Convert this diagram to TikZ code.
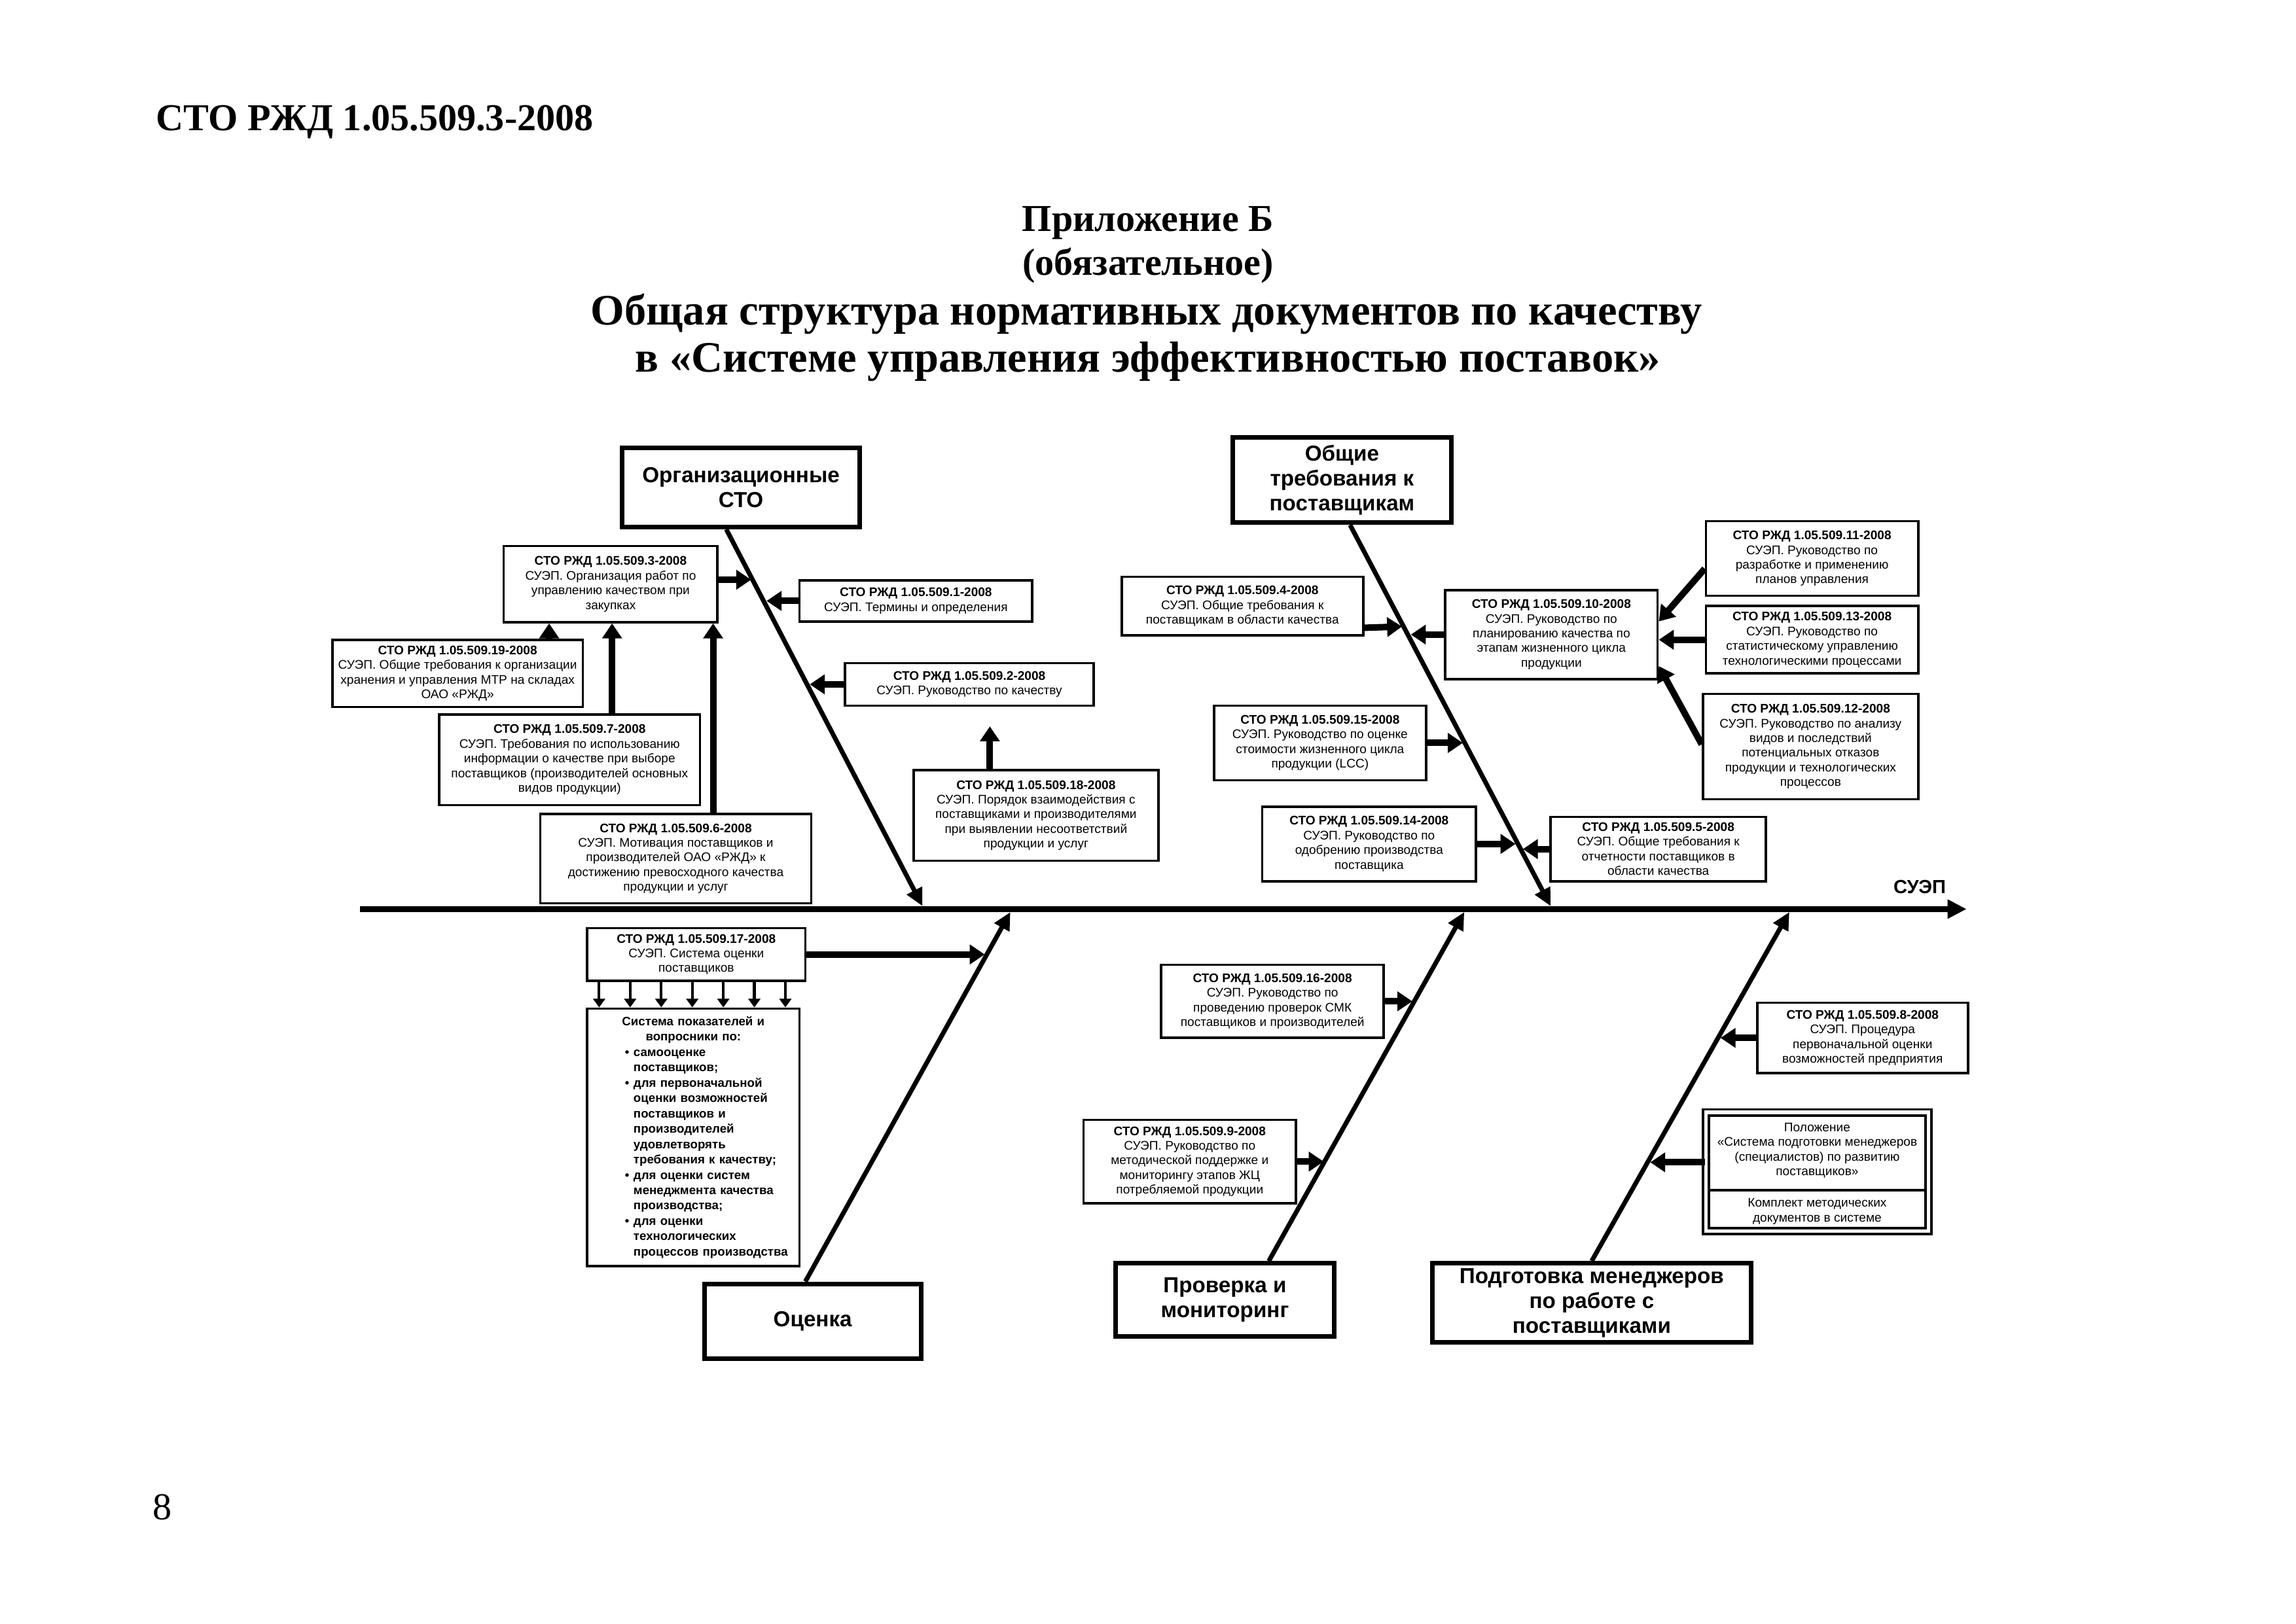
\documentclass[tikz,border=0pt]{standalone}
\usepackage{fontspec}
\setmainfont{Liberation Serif}
\newfontfamily\arial{Liberation Sans}
\usetikzlibrary{calc, arrows.meta}

\newcommand{\punkt}{\leavevmode\llap{•\hspace{1.6pt}}}

\tikzset{
    zag/.style={anchor=base, font=\bfseries\fontsize{14}{16}\selectfont},
    doc/.style={draw, line width=0.9pt, align=center, inner sep=0pt,
        font=\arial\fontsize{4.6}{5.4}\selectfont},
    cat/.style={draw, line width=1.7pt, align=center, inner sep=0pt,
        font=\arial\bfseries\fontsize{8}{9.2}\selectfont},
    razm/.style 2 args={minimum width=#1*0.018942cm, minimum height=#2*0.018942cm},
    bone/.style={line width=1.7pt, -{Triangle[length=6.5pt,width=6pt]}},
    arr/.style={->, line width=2.4pt},
    arrsmall/.style={line width=1pt, -{Triangle[length=3.2pt,width=4.4pt]}}
}

\begin{document}
\begin{tikzpicture}[x=0.018942cm, y=-0.018942cm, >={Triangle[length=5.5pt,width=7pt]}]
    \useasboundingbox (0,0) rectangle (1568,1109);

    % Заголовок
    \node[zag] (shapka) at (256,89) {СТО РЖД 1.05.509.3-2008};
    \node[zag] (pril) at (784,158) {Приложение Б};
    \node[zag] (obyaz) at (784,188) {(обязательное)};
    \node[zag, font=\bfseries\fontsize{16}{18}\selectfont] (nazv1) at (783,222)
        {Общая структура нормативных документов по качеству};
    \node[zag, font=\bfseries\fontsize{16}{18}\selectfont] (nazv2) at (784,254)
        {в «Системе управления эффективностью поставок»};
    \node[anchor=base, font=\fontsize{14}{16}\selectfont] (nomer) at (111,1038) {8};

    % Хребет
    \coordinate (s0) at (246,621);
    \coordinate (s1) at (1343,621);
    \draw[line width=2.2pt, -{Triangle[length=7pt,width=6.7pt]}] (s0) -- (s1);
    \node[font=\arial\bfseries\fontsize{7}{8}\selectfont] (suep) at (1311,606) {СУЭП};

    % Категории
    \node[cat, razm={162}{54}] (org) at (506,333) {Организационные\\СТО};
    \node[cat, razm={149}{58}] (obsh) at (916.5,328) {Общие\\требования к\\поставщикам};
    \node[cat, razm={148}{51}] (ocenka) at (555,902.5) {Оценка};
    \node[cat, razm={149}{50}] (prov) at (836.5,888) {Проверка и\\мониторинг};
    \node[cat, razm={218}{54}] (podg) at (1087,890) {Подготовка менеджеров\\по работе с\\поставщиками};

    % Кости
    \coordinate (orgtip) at (630,619);
    \coordinate (obshtip) at (1059,619);
    \coordinate (ocentip) at (690,623);
    \coordinate (provtip) at (1000,623);
    \coordinate (podgtip) at (1222,623);
    \draw[bone] ($(org.south)+(-10,0)$) -- (orgtip);
    \draw[bone] ($(obsh.south)+(5.5,0)$) -- (obshtip);
    \draw[bone] ($(ocenka.north)+(-5,0)$) -- (ocentip);
    \draw[bone] ($(prov.north)+(30,0)$) -- (provtip);
    \draw[bone] (podg.north) -- (podgtip);

    % Документы: организационные СТО
    \node[doc, razm={146}{52}] (b3) at (417,399)
        {\textbf{СТО РЖД 1.05.509.3-2008}\\СУЭП. Организация работ по\\управлению качеством при\\закупках};
    \node[doc, razm={159}{28}] (b1) at (625.5,410.5)
        {\textbf{СТО РЖД 1.05.509.1-2008}\\СУЭП. Термины и определения};
    \node[doc, razm={170}{29}] (b2) at (662,467.5)
        {\textbf{СТО РЖД 1.05.509.2-2008}\\СУЭП. Руководство по качеству};
    \node[doc, razm={171}{46}] (b19) at (312.5,460)
        {\textbf{СТО РЖД 1.05.509.19-2008}\\СУЭП. Общие требования к организации\\хранения и управления МТР на складах\\ОАО «РЖД»};
    \node[doc, razm={178}{62}] (b7) at (389,519)
        {\textbf{СТО РЖД 1.05.509.7-2008}\\СУЭП. Требования по использованию\\информации о качестве при выборе\\поставщиков (производителей основных\\видов продукции)};
    \node[doc, razm={185}{61}] (b6) at (461.5,586.5)
        {\textbf{СТО РЖД 1.05.509.6-2008}\\СУЭП. Мотивация поставщиков и\\производителей ОАО «РЖД» к\\достижению превосходного качества\\продукции и услуг};
    \node[doc, razm={167}{62}] (b18) at (707.5,557)
        {\textbf{СТО РЖД 1.05.509.18-2008}\\СУЭП. Порядок взаимодействия с\\поставщиками и производителями\\при выявлении несоответствий\\продукции и услуг};

    % Документы: общие требования к поставщикам
    \node[doc, razm={165}{40}] (b4) at (848.5,414)
        {\textbf{СТО РЖД 1.05.509.4-2008}\\СУЭП. Общие требования к\\поставщикам в области качества};
    \node[doc, razm={145}{61}] (b10) at (1059.5,433.5)
        {\textbf{СТО РЖД 1.05.509.10-2008}\\СУЭП. Руководство по\\планированию качества по\\этапам жизненного цикла\\продукции};
    \node[doc, razm={145}{51}] (b11) at (1237.5,381.5)
        {\textbf{СТО РЖД 1.05.509.11-2008}\\СУЭП. Руководство по\\разработке и применению\\планов управления};
    \node[doc, razm={145}{46}] (b13) at (1237.5,437)
        {\textbf{СТО РЖД 1.05.509.13-2008}\\СУЭП. Руководство по\\статистическому управлению\\технологическими процессами};
    \node[doc, razm={147}{72}] (b12) at (1236.5,510)
        {\textbf{СТО РЖД 1.05.509.12-2008}\\СУЭП. Руководство по анализу\\видов и последствий\\потенциальных отказов\\продукции и технологических\\процессов};
    \node[doc, razm={145}{51}] (b15) at (901.5,507.5)
        {\textbf{СТО РЖД 1.05.509.15-2008}\\СУЭП. Руководство по оценке\\стоимости жизненного цикла\\продукции (LCC)};
    \node[doc, razm={146}{51}] (b14) at (935,576.5)
        {\textbf{СТО РЖД 1.05.509.14-2008}\\СУЭП. Руководство по\\одобрению производства\\поставщика};
    \node[doc, razm={147}{44}] (b5) at (1132.5,580)
        {\textbf{СТО РЖД 1.05.509.5-2008}\\СУЭП. Общие требования к\\отчетности поставщиков в\\области качества};

    % Документы: оценка
    \node[doc, razm={149}{36}] (b17) at (475.5,652)
        {\textbf{СТО РЖД 1.05.509.17-2008}\\СУЭП. Система оценки\\поставщиков};
    \node[doc, razm={145}{176}, text width=78pt,
          font=\arial\bfseries\fontsize{4.5}{5.65}\selectfont] (sys) at (473.5,777)
        {\centering Система показателей и\\вопросники по:\par
         \raggedright\leftskip=17pt
         \punkt самооценке\\поставщиков;\par
         \punkt для первоначальной\\оценки возможностей\\поставщиков и\\производителей\\удовлетворять\\требования к качеству;\par
         \punkt для оценки систем\\менеджмента качества\\производства;\par
         \punkt для оценки\\технологических\\процессов производства\par};

    % Документы: проверка и мониторинг
    \node[doc, razm={152}{50}] (b16) at (869,684)
        {\textbf{СТО РЖД 1.05.509.16-2008}\\СУЭП. Руководство по\\проведению проверок СМК\\поставщиков и производителей};
    \node[doc, razm={145}{57}] (b9) at (812.5,793.5)
        {\textbf{СТО РЖД 1.05.509.9-2008}\\СУЭП. Руководство по\\методической поддержке и\\мониторингу этапов ЖЦ\\потребляемой продукции};

    % Документы: подготовка менеджеров
    \node[doc, razm={144}{48}] (b8) at (1272,709)
        {\textbf{СТО РЖД 1.05.509.8-2008}\\СУЭП. Процедура\\первоначальной оценки\\возможностей предприятия};
    \node[doc, double, line width=0.8pt, double distance=1.4pt, razm={152}{81}] (pol) at (1241,800.5) {};
    \draw[line width=0.9pt] ($(pol.west)+(2,12.5)$) -- ($(pol.east)+(-2,12.5)$);
    \node[doc, draw=none] (poltxt1) at (1241,786)
        {Положение\\«Система подготовки менеджеров\\(специалистов) по развитию\\поставщиков»};
    \node[doc, draw=none] (poltxt2) at (1241,827.5)
        {Комплект методических\\документов в системе};

    % Концы стрелок на костях
    \coordinate (t3) at (513,396);
    \coordinate (t1) at (523.5,410.5);
    \coordinate (t2) at (553,467.5);
    \coordinate (t4) at (957.5,428);
    \coordinate (t10) at (963.5,433.5);
    \coordinate (t15) at (999,507.5);
    \coordinate (t14) at (1035,576.5);
    \coordinate (t5) at (1040,580);
    \coordinate (t17) at (672.5,652);
    \coordinate (t16) at (964.5,684);
    \coordinate (t9) at (904,793.5);
    \coordinate (t8) at (1175,709);
    \coordinate (tpol) at (1127,794);

    % Стрелки от документов
    \draw[arr] ($(b3.east)+(0,-3)$) -- (t3);
    \draw[arr] (b1.west) -- (t1);
    \draw[arr] (b2.west) -- (t2);
    \draw[arr] ($(b4.south east)+(0,-6)$) -- (t4);
    \draw[arr] (b10.west) -- (t10);
    \draw[arr] (b15.east) -- (t15);
    \draw[arr] (b14.east) -- (t14);
    \draw[arr] (b5.west) -- (t5);
    \draw[arr] (b17.east) -- (t17);
    \draw[arr] (b16.east) -- (t16);
    \draw[arr] (b9.east) -- (t9);
    \draw[arr] (b8.west) -- (t8);
    \draw[arr] ($(pol.west)+(0,-6.5)$) -- (tpol);

    % Вертикальные стрелки к СТО 1.05.509.3
    \coordinate (a19) at ($(b19.north)+(62.5,0)$);
    \coordinate (a7) at ($(b7.north)+(29,0)$);
    \coordinate (a6) at ($(b6.north)+(25.5,0)$);
    \draw[arr] (a19) -- (a19 |- b3.south);
    \draw[arr] (a7) -- (a7 |- b3.south);
    \draw[arr] (a6) -- (a6 |- b3.south);
    \coordinate (a18) at ($(b18.north)+(-31.5,0)$);
    \draw[arr] (a18) -- ++(0,-29);

    % Стрелки к СТО 1.05.509.10
    \draw[arr] ($(b11.west)+(0,7)$) -- ($(b10.east)+(0,-9)$);
    \draw[arr] (b13.west) -- (b13.west -| b10.east);
    \draw[arr] ($(b12.west)+(0,-1.5)$) -- ($(b10.east)+(0,21.5)$);

    % Стрелки к системе показателей
    \foreach \i in {0,...,6}
        \draw[arrsmall] ($(b17.south west)+(9+21.2*\i,0)$) coordinate (d\i) -- (d\i |- sys.north);
\end{tikzpicture}
\end{document}
